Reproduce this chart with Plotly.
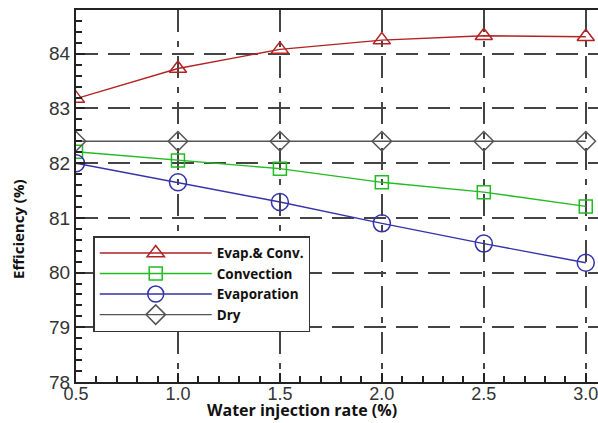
import plotly.graph_objects as go

rates = [0.5, 1.0, 1.5, 2.0, 2.5, 3.0]
evap_conv = [83.18, 83.73, 84.08, 84.25, 84.33, 84.31]
convection = [82.21, 82.05, 81.90, 81.65, 81.47, 81.21]
evaporation = [82.00, 81.65, 81.29, 80.90, 80.53, 80.18]
dry = [82.40, 82.40, 82.40, 82.40, 82.40, 82.40]

x_title = "Water injection rate (%)"
y_title = "Efficiency (%)"

series = [
    ("Evap.& Conv.", evap_conv, "#b22222", "triangle-up-open", 15),
    ("Convection", convection, "#22bb22", "square-open", 13),
    ("Evaporation", evaporation, "#3333aa", "circle-open", 17),
    ("Dry", dry, "#555555", "diamond-open", 15),
]

fig = go.Figure()
for name, vals, color, sym, sz in series:
    fig.add_trace(go.Scatter(
        x=rates, y=vals, name=name, mode="lines+markers",
        line=dict(color=color, width=1.4),
        marker=dict(symbol=sym, size=sz, color=color, line=dict(width=1.5, color=color)),
    ))

fig.update_layout(
    width=598, height=423,
    margin=dict(l=76, r=0, t=10, b=41),
    paper_bgcolor="white", plot_bgcolor="white",
    font=dict(family="Liberation Sans, Arial", color="#222"),
    legend=dict(
        x=0.033, y=0.392, xanchor="left", yanchor="top",
        bgcolor="white", bordercolor="#333", borderwidth=1.5,
        font=dict(family="Open Sans", size=13.5, color="#111", weight="bold"),
        itemwidth=112, tracegroupgap=0,
    ),
    showlegend=True,
    annotations=[
        dict(text="<b>" + x_title + "</b>", xref="paper", yref="paper",
             x=0.433, y=0, xanchor="center", yanchor="bottom", yshift=-41,
             showarrow=False, font=dict(family="Open Sans", size=16, color="#111")),
        dict(text="<b>" + y_title + "</b>", xref="paper", yref="paper",
             x=-0.111, y=0.409, xanchor="center", yanchor="middle", textangle=-90,
             showarrow=False, font=dict(family="Open Sans", size=15, color="#111")),
    ],
)
fig.update_xaxes(
    range=[0.5, 3.06], tickvals=rates,
    ticktext=["0.5", "1.0", "1.5", "2.0", "2.5", "3.0"],
    tickfont=dict(size=18, color="#333"), ticklabeloverflow="allow",
    ticklabelstandoff=-6,
    showline=True, linecolor="#222", linewidth=2, mirror=True,
    ticks="inside", ticklen=9, tickcolor="#222", tickwidth=1.5,
    minor=dict(dtick=0.1, ticks="inside", ticklen=6, tickcolor="#222", showgrid=False),
    showgrid=True, gridcolor="#444", gridwidth=1.5, griddash="22px,9px,6px,9px",
    zeroline=False,
)
fig.update_yaxes(
    range=[78, 84.8], tickvals=[78, 79, 80, 81, 82, 83, 84],
    tickfont=dict(size=19, color="#333"),
    showline=True, linecolor="#222", linewidth=2,
    ticks="inside", ticklen=9, tickcolor="#222", tickwidth=1.5,
    minor=dict(dtick=0.2, ticks="inside", ticklen=6, tickcolor="#222", showgrid=False),
    showgrid=True, gridcolor="#444", gridwidth=1.5, griddash="22px,10px",
    zeroline=False,
)

fig.write_html("out.html")
